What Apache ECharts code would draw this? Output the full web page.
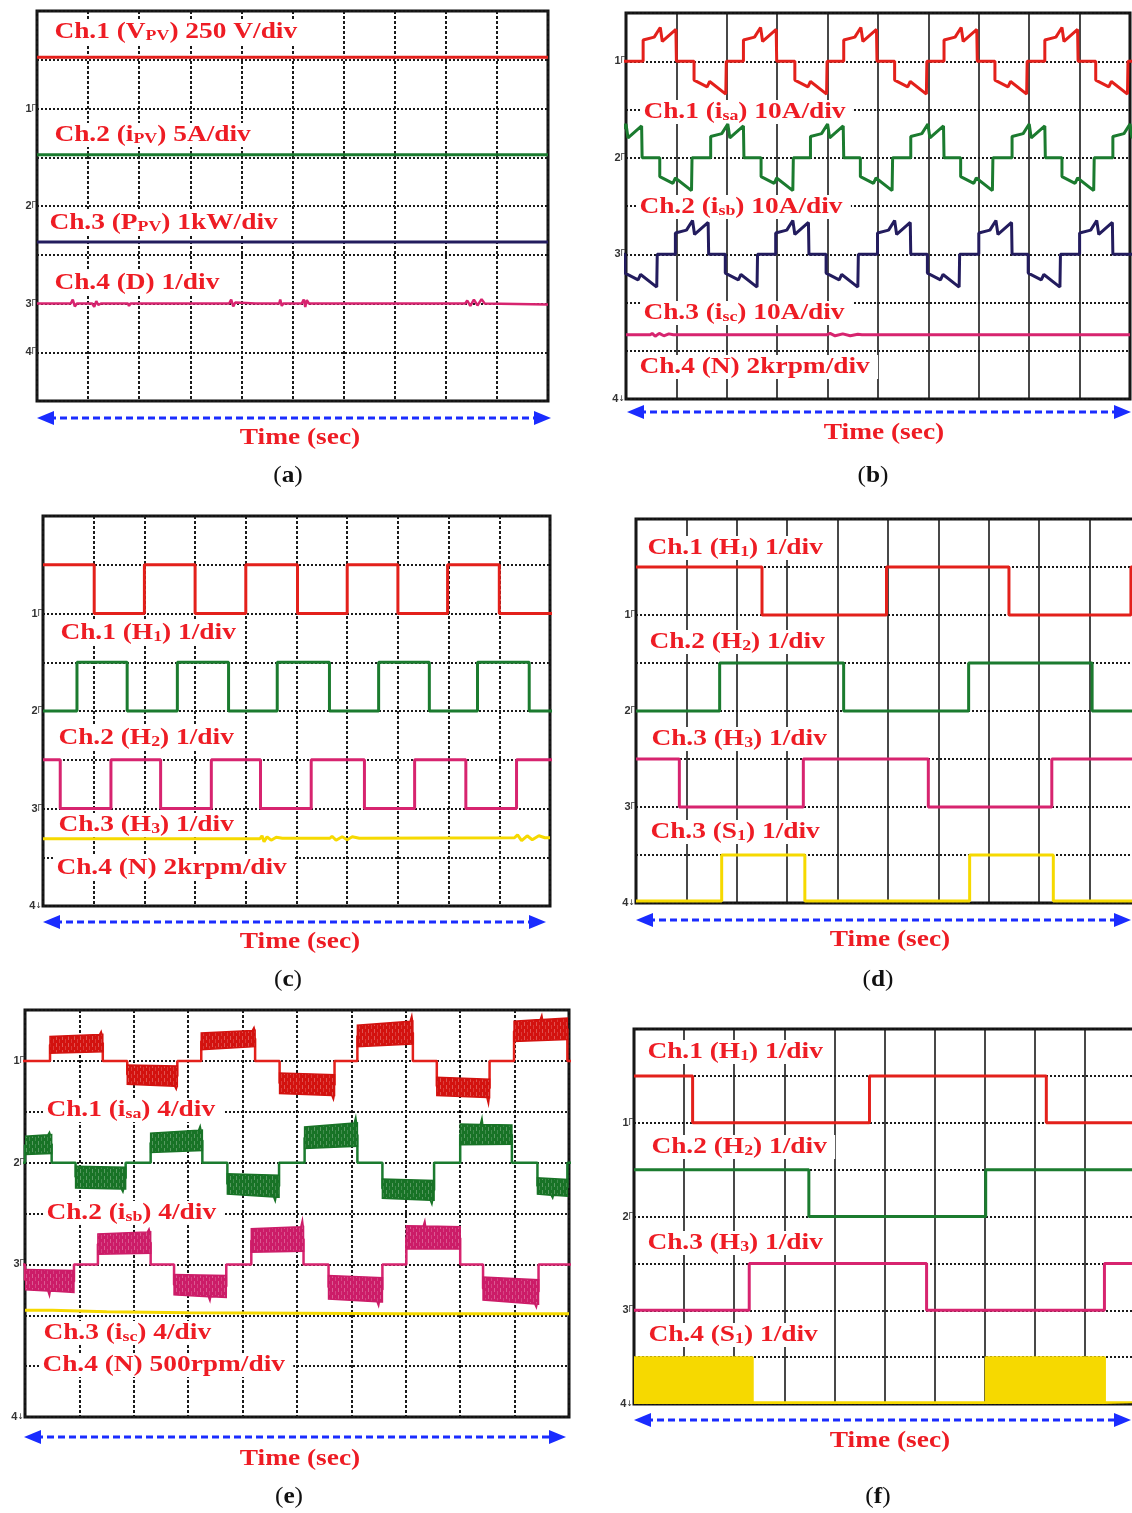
<!DOCTYPE html>
<html><head><meta charset="utf-8">
<script src="https://cdn.jsdelivr.net/npm/echarts/dist/echarts.min.js"></script>
<style>html,body{margin:0;padding:0;background:#fff}#c{width:1132px;height:1513px}</style>
</head><body><div id="c"></div>
<script>
// ---------------- DATA (values in screen divisions, 0 = bottom of screen, x in time divisions 0..10) -------------
// channel marker labels on the left of each screen: [division, label]
const aMarks = [[6,'1'],[4,'2'],[2,'3'],[1,'4']];
const bMarks = [[7,'1'],[5,'2'],[3,'3'],[0,'4']];
const cMarks = [[6,'1'],[4,'2'],[2,'3'],[0,'4']];
const dMarks = [[6,'1'],[4,'2'],[2,'3'],[0,'4']];
const eMarks = [[7,'1'],[5,'2'],[3,'3'],[0,'4']];
const fMarks = [[6,'1'],[4,'2'],[2,'3'],[0,'4']];

// (a) PV quantities
const aVpv = [[0,7.05],[10,7.05]];
const aIpv = [[0,5.05],[10,5.05]];
const aPpv = [[0,3.26],[10,3.26]];
const aD = [[0,2.0],[0.66,2.0],[0.7,2.08],[0.74,1.94],[0.78,2.0],[1.08,2.0],[1.12,1.93],[1.16,2.05],[1.2,1.97],[1.25,2.0],[1.78,2.0],[1.8,1.95],[1.83,2.0],[3.76,2.0],[3.8,2.08],[3.84,1.94],[3.88,2.02],[4.28,2.0],[4.3,1.96],[4.33,2.0],[4.74,2.0],[4.76,2.08],[4.79,1.95],[4.82,2.0],[5.18,2.0],[5.22,2.08],[5.25,1.93],[5.28,2.07],[5.32,2.0],[8.38,2.0],[8.42,2.06],[8.48,1.95],[8.55,2.08],[8.62,1.96],[8.7,2.09],[8.76,2.0],[10,1.98]];

const bPosShape = [[0,0],[0,0.44],[0.22,0.5],[0.34,0.7],[0.38,0.41],[0.65,0.66],[0.66,0.66],[0.66,0]];
const bNegShape = [[0,0],[0,-0.39],[0.26,-0.53],[0.31,-0.42],[0.63,-0.68],[0.64,-0.68],[0.64,0]];
const bIsaPos = [0.34, 2.33, 4.32, 6.31, 8.31];
const bIsaNeg = [1.35, 3.35, 5.33, 7.32, 9.32];
const bIsbPos = [-0.34, 1.68, 3.66, 5.65, 7.66, 9.66];
const bIsbNeg = [0.67, 2.68, 4.65, 6.64, 8.65];
const bIscPos = [0.98, 2.97, 4.99, 7.0, 9.0];
const bIscNeg = [-0.02, 1.97, 3.97, 5.98, 7.98];
const bBase = [7, 5, 3];
const bN = [[0,1.33],[0.48,1.33],[0.52,1.36],[0.58,1.3],[0.66,1.36],[0.75,1.31],[0.85,1.35],[0.94,1.33],[3.98,1.33],[4.05,1.36],[4.15,1.31],[4.3,1.35],[4.45,1.31],[4.6,1.34],[4.68,1.33],[7.1,1.33],[7.13,1.35],[7.16,1.33],[10,1.33]];

// (c) hall signals: [time of change, new level 0/1]
const cH1 = [[0,1],[1.01,0],[2,1],[3,0],[4,1],[5.02,0],[6,1],[7,0],[7.98,1],[9,0]];
const cH2 = [[0,0],[0.67,1],[1.66,0],[2.65,1],[3.66,0],[4.62,1],[5.65,0],[6.62,1],[7.62,0],[8.57,1],[9.59,0]];
const cH3 = [[0,1],[0.34,0],[1.34,1],[2.32,0],[3.32,1],[4.29,0],[5.29,1],[6.34,0],[7.33,1],[8.34,0],[9.34,1]];
const cBase = [6, 4, 2];
const cN = [[0,1.38],[4.28,1.38],[4.32,1.44],[4.36,1.32],[4.42,1.42],[4.5,1.35],[4.6,1.41],[4.72,1.39],[5.66,1.39],[5.7,1.43],[5.78,1.35],[5.9,1.42],[6.0,1.36],[6.1,1.42],[6.24,1.39],[9.3,1.4],[9.36,1.46],[9.44,1.34],[9.55,1.44],[9.65,1.36],[9.78,1.44],[9.9,1.4],[10,1.4]];

// (d) hall signals and switch S1
const dH1 = [[0,1],[2.5,0],[4.97,1],[7.4,0],[9.82,1]];
const dH2 = [[0,0],[1.66,1],[4.12,0],[6.6,1],[9.05,0]];
const dH3 = [[0,1],[0.86,0],[3.32,1],[5.8,0],[8.25,1]];
const dS1 = [[0,0],[1.7,1],[3.35,0],[6.62,1],[8.28,0]];
const dBase = [6, 4, 2, 0.04];

// (e) noisy phase currents: lobes [tStart, tEnd, innerStart, outerStart, innerEnd, outerEnd, spikeT, spikeV]
const eIsa = [
  [0.46,1.43, 0.15,0.48, 0.18,0.52, 1.40,0.58],
  [1.88,2.80,-0.08,-0.46,-0.10,-0.50, 2.78,-0.56],
  [3.24,4.23, 0.22,0.55, 0.28,0.60, 4.21,0.66],
  [4.68,5.69,-0.24,-0.64,-0.27,-0.68, 5.67,-0.76],
  [6.11,7.13, 0.28,0.70, 0.33,0.78, 7.11,0.89],
  [7.57,8.54,-0.32,-0.68,-0.36,-0.72, 8.52,-0.85],
  [8.99,9.97, 0.38,0.78, 0.42,0.84, 9.50,0.90]
];
const eIsb = [
  [0.00,0.49, 0.16,0.52, 0.18,0.55, 0.45,0.60],
  [0.93,1.85,-0.07,-0.50,-0.09,-0.52, 1.80,-0.58],
  [2.31,3.26, 0.20,0.58, 0.24,0.64, 3.22,0.72],
  [3.72,4.67,-0.22,-0.62,-0.25,-0.68, 4.60,-0.76],
  [5.14,6.11, 0.28,0.70, 0.32,0.78, 6.08,0.90],
  [6.57,7.52,-0.32,-0.70,-0.35,-0.74, 7.48,-0.82],
  [8.00,8.95, 0.35,0.76, 0.36,0.74, 8.40,0.88],
  [9.42,9.97,-0.30,-0.62,-0.33,-0.66, 9.70,-0.70]
];
const eIsc = [
  [0.00,0.90,-0.10,-0.50,-0.12,-0.55, 0.45,-0.62],
  [1.34,2.31, 0.20,0.60, 0.22,0.64, 2.28,0.70],
  [2.74,3.70,-0.20,-0.60,-0.22,-0.65, 3.40,-0.72],
  [4.16,5.12, 0.24,0.70, 0.26,0.74, 5.10,0.88],
  [5.58,6.57,-0.22,-0.68,-0.26,-0.74, 6.50,-0.82],
  [7.01,8.00, 0.30,0.76, 0.30,0.74, 7.35,0.86],
  [8.42,9.44,-0.25,-0.70,-0.30,-0.78, 9.40,-0.85]
];
const eBase = [7, 5, 3];
const eN = [[0,2.1],[0.5,2.1],[1.5,2.07],[3,2.05],[5,2.04],[7,2.03],[10,2.03]];

// (f) hall signals and PWM switch S1
const fH1 = [[0,1],[1.17,0],[4.70,1],[8.23,0]];
const fH2 = [[0,1],[3.49,0],[7.02,1]];
const fH3 = [[0,0],[2.30,1],[5.84,0],[9.39,1]];
const fS1 = [[0,1],[2.37,0],[7.02,1],[9.40,0]];
const fBase = [6, 4, 2, 0.04];

// label texts
const aLabels = ['Ch.1 (V{s|PV}) 250 V/div','Ch.2 (i{s|PV}) 5A/div','Ch.3 (P{s|PV}) 1kW/div','Ch.4 (D) 1/div'];
const bLabels = ['Ch.1 (i{s|sa}) 10A/div','Ch.2 (i{s|sb}) 10A/div','Ch.3 (i{s|sc}) 10A/div','Ch.4 (N) 2krpm/div'];
const cLabels = ['Ch.1 (H{s|1}) 1/div','Ch.2 (H{s|2}) 1/div','Ch.3 (H{s|3}) 1/div','Ch.4 (N) 2krpm/div'];
const dLabels = ['Ch.1 (H{s|1}) 1/div','Ch.2 (H{s|2}) 1/div','Ch.3 (H{s|3}) 1/div','Ch.3 (S{s|1}) 1/div'];
const eLabels = ['Ch.1 (i{s|sa}) 4/div','Ch.2 (i{s|sb}) 4/div','Ch.3 (i{s|sc}) 4/div','Ch.4 (N) 500rpm/div'];
const fLabels = ['Ch.1 (H{s|1}) 1/div','Ch.2 (H{s|2}) 1/div','Ch.3 (H{s|3}) 1/div','Ch.4 (S{s|1}) 1/div'];
const timeLabel = 'Time (sec)';
const captions = ['a','b','c','d','e','f'];

// ---------------- LAYOUT / STYLE ----------------
const panels = [
  {left:37,  top:11,   width:511, height:390, vDash:true,  marks:aMarks, labels:aLabels, lpos:[[52,32],[52,135],[47,223],[52,283]], arrow:[37,551,418], time:[300,438], cap:[288,476]},
  {left:626, top:13,   width:504, height:386, vDash:false, marks:bMarks, labels:bLabels, lpos:[[641,112],[637,207],[641,313],[637,367]], arrow:[627,1131,412], time:[884,433], cap:[873,476]},
  {left:43,  top:516,  width:507, height:390, vDash:true,  marks:cMarks, labels:cLabels, lpos:[[58,633],[56,738],[56,825],[54,868]], arrow:[43,546,922], time:[300,942], cap:[288,980]},
  {left:636, top:519,  width:504, height:384, vDash:false, marks:dMarks, labels:dLabels, lpos:[[645,548],[647,642],[649,739],[648,832]], arrow:[636,1131,920], time:[890,940], cap:[878,980]},
  {left:25,  top:1010, width:544, height:407, vDash:true,  marks:eMarks, labels:eLabels, lpos:[[44,1110],[44,1213],[41,1333],[40,1365]], arrow:[24,566,1437], time:[300,1459], cap:[289,1497]},
  {left:634, top:1029, width:501, height:375, vDash:false, marks:fMarks, labels:fLabels, lpos:[[645,1052],[649,1147],[645,1243],[646,1335]], arrow:[634,1131,1420], time:[890,1441], cap:[878,1497]}
];
const SERIF = '"Liberation Serif","Times New Roman",serif';
const SERIF_FAM = 'Liberation Serif';
const TXT_RED = '#ee1c24';
const COL = {red:'#e3201b', green:'#1b7b2f', navy:'#231c5e', pink:'#d7246f', yellow:'#f6d900', blue:'#1a2cff'};
const SX = 1.19; // horizontal stretch of the lettering in the figure

function stripePattern(color) {
  const cv = document.createElement('canvas');
  cv.width = 6; cv.height = 7;
  const g = cv.getContext('2d');
  g.fillStyle = color; g.fillRect(0, 0, 6, 7);
  g.fillStyle = 'rgba(255,255,255,0.28)'; g.fillRect(2, 0, 1, 4);
  g.fillStyle = 'rgba(255,255,255,0.18)'; g.fillRect(5, 3, 1, 4);
  return {image: cv, repeat: 'repeat'};
}
function stepPoints(changes, base, amp) {
  const pts = [];
  changes.forEach(([t, lv], i) => {
    if (i > 0) pts.push([t, base + changes[i-1][1]*amp]);
    pts.push([t, base + lv*amp]);
  });
  pts.push([10.5, base + changes[changes.length-1][1]*amp]);
  return pts;
}
function lobePath(posStarts, negStarts, base) {
  const lobes = posStarts.map(t => [t, bPosShape]).concat(negStarts.map(t => [t, bNegShape])).sort((a,b) => a[0]-b[0]);
  const pts = [[-1, base]];
  lobes.forEach(([t0, shape]) => shape.forEach(([dt, v]) => pts.push([t0+dt, base+v])));
  pts.push([11, base]);
  return pts;
}
function bandPath(lobes, base) {
  const pts = [[-1, base]];
  lobes.forEach(([t0,t1,i0,o0,i1,o1]) => {
    pts.push([t0, base], [t0, base+(i0+o0)/2], [t1, base+(i1+o1)/2], [t1, base]);
  });
  pts.push([11, base]);
  return pts;
}
function bandRender(base, color) {
  const pat = stripePattern(color);
  return function (params, api) {
    const t0=api.value(0), t1=api.value(1), i0=api.value(2), o0=api.value(3), i1=api.value(4), o1=api.value(5), ts=api.value(6), vs=api.value(7);
    const oAt = o0 + (o1-o0)*(ts-t0)/(t1-t0);
    const pts = [[t0,i0],[t0,o0],[ts-0.03,oAt],[ts,vs],[Math.min(ts+0.015,t1),oAt],[t1,o1],[t1,i1]].map(([t,v]) => api.coord([t, base+v]));
    return {type:'polygon', shape:{points:pts}, style:{fill:pat, stroke:color, lineWidth:1.5}};
  };
}
function line(idx, data, color, width, extra) {
  return Object.assign({type:'line', xAxisIndex:idx, yAxisIndex:idx, data, showSymbol:false, symbol:'none',
    lineStyle:{color, width: width||3}, clip:true, animation:false, z:3}, extra||{});
}

const grids = [], xAxes = [], yAxes = [], graphics = [];
panels.forEach((p, i) => {
  grids.push({left:p.left, top:p.top, width:p.width, height:p.height, show:true, borderColor:'#111', borderWidth:3,
    backgroundColor:'transparent', containLabel:false, outerBoundsMode:'none'});
  xAxes.push({gridIndex:i, type:'value', min:0, max:10, interval:1,
    axisLine:{show:false}, axisTick:{show:false}, axisLabel:{show:false},
    splitLine:{show:true, lineStyle:p.vDash ? {color:'#1a1a1a', width:2, type:[3,2]} : {color:'#1a1a1a', width:1.6, type:'solid'}}});
  const mk = {}; p.marks.forEach(([v, s]) => mk[v] = s);
  yAxes.push({gridIndex:i, type:'value', min:0, max:8, interval:1,
    axisLine:{show:false}, axisTick:{show:false},
    axisLabel:{show:true, margin:1, formatter: v => mk[v] ? ('{n|' + mk[v] + '}' + (v === 0 ? '{g|↓}' : '{g|Γ}')) : '',
      rich:{n:{fontFamily:'Liberation Sans', fontWeight:'bold', fontSize:11, color:'#333'}, g:{fontFamily:'DejaVu Sans', fontSize:8, color:'#333'}}},
    splitLine:{show:true, lineStyle:{color:'#1a1a1a', width:2, type:[2,2]}}});
  // channel labels
  p.labels.forEach((t, k) => {
    graphics.push({type:'text', x:p.lpos[k][0], y:p.lpos[k][1], scaleX:SX, z:1,
      style:{text:t, font:'bold 23px ' + SERIF, fill:TXT_RED, verticalAlign:'middle', lineHeight:24,
        backgroundColor:'#fff', padding:[0,7,0,2],
        rich:{s:{fontFamily:SERIF_FAM, fontWeight:'bold', fontSize:15, fill:TXT_RED, verticalAlign:'bottom', lineHeight:10}}}});
  });
  // time arrow
  const [x1, x2, ay] = p.arrow;
  graphics.push({type:'line', shape:{x1:x1+12, y1:ay, x2:x2-12, y2:ay}, style:{stroke:COL.blue, lineWidth:3, lineDash:[7,4]}});
  graphics.push({type:'polygon', shape:{points:[[x1,ay],[x1+17,ay-7],[x1+17,ay+7]]}, style:{fill:COL.blue}});
  graphics.push({type:'polygon', shape:{points:[[x2,ay],[x2-17,ay-7],[x2-17,ay+7]]}, style:{fill:COL.blue}});
  graphics.push({type:'text', x:p.time[0], y:p.time[1], scaleX:SX,
    style:{text:timeLabel, font:'bold 23px ' + SERIF, fill:TXT_RED, align:'center', verticalAlign:'middle'}});
  graphics.push({type:'text', x:p.cap[0], y:p.cap[1], scaleX:1.1,
    style:{text:'({b|' + captions[i] + '})', font:'23px ' + SERIF, fill:'#111', align:'center', verticalAlign:'middle',
      rich:{b:{fontFamily:SERIF_FAM, fontWeight:'bold', fontSize:23, fill:'#111'}}}});
});

const series = [
  // (a)
  line(0, aVpv, COL.red), line(0, aIpv, COL.green), line(0, aPpv, COL.navy), line(0, aD, COL.pink, 2.5),
  // (b)
  line(1, lobePath(bIsaPos, bIsaNeg, bBase[0]), COL.red), line(1, lobePath(bIsbPos, bIsbNeg, bBase[1]), COL.green),
  line(1, lobePath(bIscPos, bIscNeg, bBase[2]), COL.navy), line(1, bN, COL.pink),
  // (c)
  line(2, stepPoints(cH1, cBase[0], 1), COL.red), line(2, stepPoints(cH2, cBase[1], 1), COL.green),
  line(2, stepPoints(cH3, cBase[2], 1), COL.pink), line(2, cN, COL.yellow),
  // (d)
  line(3, stepPoints(dH1, dBase[0], 1), COL.red), line(3, stepPoints(dH2, dBase[1], 1), COL.green),
  line(3, stepPoints(dH3, dBase[2], 1), COL.pink), line(3, stepPoints(dS1, dBase[3], 0.96), COL.yellow),
  // (e)
  line(4, bandPath(eIsa, eBase[0]), COL.red, 2.5), line(4, bandPath(eIsb, eBase[1]), COL.green, 2.5),
  line(4, bandPath(eIsc, eBase[2]), COL.pink, 2.5), line(4, eN, COL.yellow, 3),
  {type:'custom', xAxisIndex:4, yAxisIndex:4, data:eIsa, renderItem:bandRender(eBase[0], '#d3120f'), clip:true, z:4, animation:false},
  {type:'custom', xAxisIndex:4, yAxisIndex:4, data:eIsb, renderItem:bandRender(eBase[1], '#187326'), clip:true, z:4, animation:false},
  {type:'custom', xAxisIndex:4, yAxisIndex:4, data:eIsc, renderItem:bandRender(eBase[2], '#cc1c68'), clip:true, z:4, animation:false},
  // (f)
  line(5, stepPoints(fH1, fBase[0], 1), COL.red), line(5, stepPoints(fH2, fBase[1], 1), COL.green),
  line(5, stepPoints(fH3, fBase[2], 1), COL.pink),
  line(5, stepPoints(fS1, fBase[3], 0.96), COL.yellow, 2, {areaStyle:{color:COL.yellow, opacity:1, origin:'start'}})
];

const chart = echarts.init(document.getElementById('c'), null, {renderer:'canvas'});
chart.setOption({
  animation:false, backgroundColor:'#fff',
  grid:grids, xAxis:xAxes, yAxis:yAxes, series, graphic:{elements:graphics}
});
</script></body></html>
